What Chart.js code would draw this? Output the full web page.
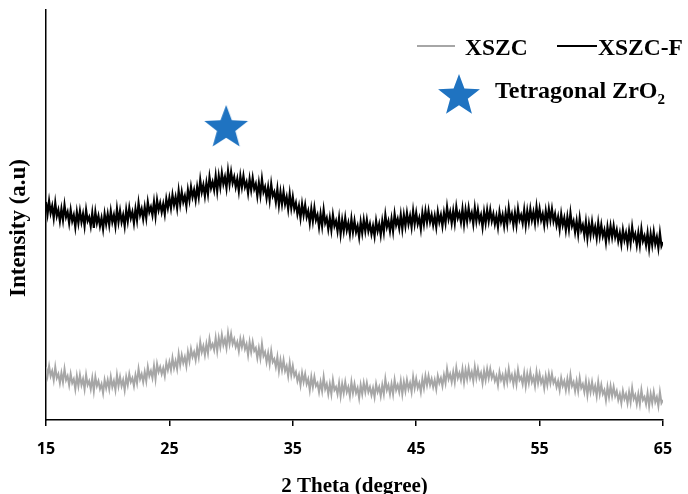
<!DOCTYPE html>
<html>
<head>
<meta charset="utf-8">
<script src="https://cdn.jsdelivr.net/npm/chart.js@4"></script>
<style>
  html, body { margin: 0; padding: 0; background: #fff; }
  #wrap { width: 688px; height: 494px; }
</style>
</head>
<body>
<div id="wrap"><canvas id="xrd"></canvas></div>
<script>
// 2 theta grid of the scans (degrees), 8 readings per degree
const thetaStart = 15;
const thetaStep = 0.125;
const xTicks = [15, 25, 35, 45, 55, 65];

// XSZC-F (black), arbitrary units; one row per degree
const xszcF = [
  218,206,219,207,214,202,217,204,
  210,199,211,200,215,203,208,197,
  210,199,205,193,208,197,209,198,
  206,194,210,199,203,194,207,192,
  208,197,204,194,202,191,206,196,
  206,195,209,198,205,194,211,198,
  209,198,205,194,210,199,212,202,
  208,197,211,200,217,205,211,201,
  213,202,218,208,213,205,218,204,
  220,210,217,208,216,206,221,212,
  222,212,225,215,223,212,229,216,
  228,218,224,214,230,220,233,223,
  230,220,233,223,240,228,235,224,
  237,226,243,232,238,230,244,229,
  244,233,247,236,243,232,249,236,
  248,237,243,233,241,229,244,233,
  244,233,238,227,241,230,242,231,
  236,224,237,225,241,228,233,222,
  233,220,236,224,228,218,231,215,
  228,216,228,216,223,211,226,212,
  223,211,217,206,214,202,216,205,
  215,203,209,197,211,199,212,200,
  205,193,206,194,210,197,202,191,
  202,190,205,194,199,189,202,186,
  200,189,202,190,197,186,201,188,
  199,188,194,183,198,187,200,189,
  200,189,196,186,194,184,199,189,
  196,185,199,188,205,193,199,189,
  201,189,206,195,201,192,205,191,
  205,194,207,196,204,193,209,196,
  207,196,202,191,207,196,209,198,
  209,198,205,195,204,193,208,198,
  205,194,207,197,213,201,208,197,
  209,197,213,202,207,198,211,196,
  210,199,212,201,207,196,212,199,
  210,199,205,193,208,197,210,199,
  210,199,206,196,204,193,208,198,
  205,194,207,196,212,200,206,195,
  207,195,211,200,205,197,210,195,
  209,198,211,200,208,197,213,200,
  211,200,206,195,209,198,211,200,
  211,199,206,195,203,191,206,195,
  202,190,203,191,207,194,199,188,
  199,186,202,190,195,185,198,182,
  196,185,198,186,193,182,197,184,
  195,184,190,178,193,182,194,183,
  194,183,190,179,187,176,190,180,
  187,176,189,177,193,181,186,175,
  187,175,191,179,184,175,187,172,
  186,175,188,176,183,172,187,174,
  178
];

// XSZC (grey)
const xszc = [
  53,44,54,44,49,40,53,42,
  46,37,47,38,51,40,44,35,
  46,37,41,31,44,34,45,35,
  41,31,45,35,39,31,42,29,
  43,34,39,31,36,27,40,32,
  40,31,43,33,39,30,45,34,
  43,34,40,30,43,35,46,38,
  42,34,45,37,51,41,46,38,
  48,39,53,44,49,42,54,41,
  56,48,53,46,52,44,57,50,
  58,50,62,52,59,51,66,55,
  65,57,63,54,68,59,71,63,
  68,60,72,63,78,68,74,65,
  76,67,81,72,76,70,82,69,
  82,73,85,75,81,72,87,76,
  86,76,81,73,78,69,81,73,
  81,71,76,65,78,68,78,69,
  72,62,72,62,76,64,68,58,
  67,56,69,58,61,53,63,49,
  60,50,60,49,54,44,57,45,
  54,44,48,39,45,35,47,38,
  46,36,41,30,43,33,43,34,
  37,28,38,29,43,31,36,26,
  36,26,40,30,33,26,37,24,
  36,27,38,28,33,24,38,27,
  36,27,32,22,35,26,37,28,
  37,28,33,25,32,23,36,28,
  33,24,35,26,41,30,35,26,
  36,26,40,30,35,28,39,26,
  38,29,40,31,37,28,43,32,
  41,32,37,28,41,32,44,35,
  44,35,41,33,40,31,44,37,
  42,34,45,37,51,41,46,38,
  48,38,52,42,47,40,51,38,
  50,41,52,42,48,39,53,42,
  51,42,47,37,49,40,51,42,
  51,42,47,39,44,35,48,40,
  45,36,47,38,51,40,45,36,
  46,36,50,40,43,36,47,34,
  46,37,48,38,43,34,48,37,
  46,37,42,32,44,35,46,37,
  46,37,41,33,39,30,42,34,
  39,30,41,31,45,34,38,29,
  39,29,42,32,36,28,39,25,
  37,28,38,28,34,24,38,26,
  35,26,30,20,33,23,34,24,
  33,24,29,20,26,17,29,21,
  26,17,28,18,32,21,25,16,
  26,16,30,20,23,16,27,14,
  26,17,28,18,23,14,28,17,
  20
];

// tetragonal ZrO2 marker
const peakTheta = [29.6];
const peakY = [292];

const grayColor = '#a6a6a6';
const starColor = '#1f73c1';

function toPoints(values) {
  return values.map((v, i) => ({ x: thetaStart + i * thetaStep, y: v }));
}

function makeStar(r, color) {
  const c = document.createElement('canvas');
  const size = Math.ceil(r * 2 + 4);
  c.width = size;
  c.height = size;
  const g = c.getContext('2d');
  const inner = r * 0.42;
  g.beginPath();
  for (let i = 0; i < 10; i++) {
    const rad = i % 2 === 0 ? r : inner;
    const a = -Math.PI / 2 + i * Math.PI / 5;
    g.lineTo(size / 2 + rad * Math.cos(a), size / 2 + rad * Math.sin(a));
  }
  g.closePath();
  g.fillStyle = color;
  g.fill();
  return c;
}

const peakStar = makeStar(23, starColor);
const legendStar = makeStar(22, starColor);

const serifBold = size => 'bold ' + size + 'px "Liberation Serif", "Times New Roman", serif';

// legend and y title drawn by hand to match the figure layout
const legendPlugin = {
  id: 'xrdLegend',
  afterDraw(chart) {
    const ctx = chart.ctx;
    ctx.save();
    ctx.lineWidth = 2;
    ctx.strokeStyle = grayColor;
    ctx.beginPath();
    ctx.moveTo(417, 46);
    ctx.lineTo(455, 46);
    ctx.stroke();
    ctx.strokeStyle = '#000';
    ctx.beginPath();
    ctx.moveTo(557, 46);
    ctx.lineTo(597, 46);
    ctx.stroke();

    ctx.fillStyle = '#000';
    ctx.textBaseline = 'alphabetic';
    ctx.font = serifBold(23.5);
    ctx.fillText('XSZC', 465, 55);
    ctx.fillText('XSZC-F', 598, 55);

    ctx.drawImage(legendStar, 459 - legendStar.width / 2, 96 - legendStar.height / 2);
    ctx.font = serifBold(24);
    ctx.fillText('Tetragonal ZrO', 495, 98);
    const w = ctx.measureText('Tetragonal ZrO').width;
    ctx.font = serifBold(15);
    ctx.fillText('2', 495 + w, 104);

    // y axis title
    ctx.translate(19, 228);
    ctx.rotate(-Math.PI / 2);
    ctx.font = serifBold(23);
    ctx.textAlign = 'center';
    ctx.textBaseline = 'middle';
    ctx.fillText('Intensity (a.u)', 0, 0);
    ctx.restore();
  }
};

new Chart(document.getElementById('xrd'), {
  type: 'line',
  data: {
    datasets: [
      {
        label: 'XSZC',
        data: toPoints(xszc),
        borderColor: grayColor,
        borderWidth: 2,
        pointRadius: 0,
        tension: 0
      },
      {
        label: 'XSZC-F',
        data: toPoints(xszcF),
        borderColor: '#000',
        borderWidth: 2.2,
        pointRadius: 0,
        tension: 0
      },
      {
        type: 'scatter',
        label: 'Tetragonal ZrO2',
        data: peakTheta.map((t, i) => ({ x: t, y: peakY[i] })),
        pointStyle: peakStar,
        pointRadius: 23,
        showLine: false
      }
    ]
  },
  options: {
    responsive: true,
    maintainAspectRatio: false,
    animation: false,
    layout: { autoPadding: false, padding: { top: 10, right: 25, left: 0, bottom: 0 } },
    plugins: {
      legend: { display: false },
      tooltip: { enabled: false }
    },
    scales: {
      x: {
        type: 'linear',
        min: 15,
        max: 65,
        afterBuildTicks: s => { s.ticks = xTicks.map(v => ({ value: v })); },
        afterFit: s => { s.height = 74; },
        grid: { drawOnChartArea: false, drawTicks: true, tickLength: 6, color: '#000', lineWidth: 1.5 },
        border: { color: '#000', width: 1.5 },
        ticks: {
          color: '#000',
          maxRotation: 0,
          padding: 14,
          font: { family: 'Open Sans', weight: 'bold', size: 16 }
        },
        title: {
          display: true,
          text: '2 Theta (degree)',
          color: '#000',
          font: { family: 'Liberation Serif', weight: 'bold', size: 21, lineHeight: 0.7 },
          padding: { top: 0, bottom: 0 }
        }
      },
      y: {
        min: 0,
        max: 410,
        afterFit: s => { s.width = 46; },
        ticks: { display: false },
        grid: { drawOnChartArea: false, drawTicks: false },
        border: { color: '#000', width: 1.5 }
      }
    }
  },
  plugins: [legendPlugin]
});
</script>
</body>
</html>
